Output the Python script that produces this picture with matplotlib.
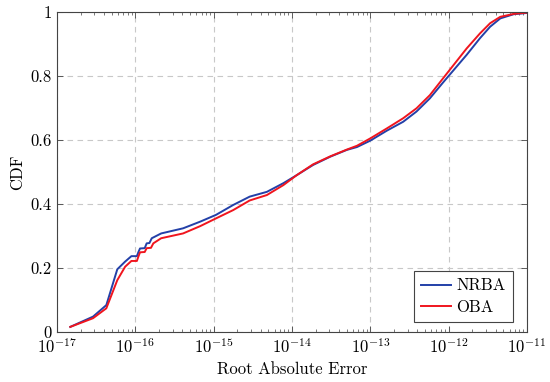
import matplotlib
matplotlib.use("Agg")
import matplotlib.pyplot as plt
from matplotlib.ticker import FixedLocator, FixedFormatter, LogLocator, NullFormatter

plt.rcParams["font.family"] = "cmr10"
plt.rcParams["mathtext.fontset"] = "cm"
plt.rcParams["axes.formatter.use_mathtext"] = True

# log10 of root absolute error vs CDF
nrba_logx = [-16.83, -16.54, -16.37, -16.23, -16.13, -16.05, -15.98, -15.96, -15.94,
             -15.88, -15.855, -15.82, -15.79, -15.67, -15.39, -15.17, -14.97, -14.75,
             -14.54, -14.32, -14.11, -13.94, -13.73, -13.51, -13.30, -13.17, -13.00,
             -12.79, -12.58, -12.41, -12.24, -12.07, -11.77, -11.60, -11.47,
             -11.34, -11.17, -11.00]
nrba_cdf = [0.016, 0.048, 0.084, 0.196, 0.220, 0.237, 0.237, 0.250, 0.261,
            0.262, 0.277, 0.278, 0.293, 0.308, 0.324, 0.345, 0.366, 0.397,
            0.423, 0.438, 0.465, 0.490, 0.522, 0.548, 0.569, 0.578, 0.598,
            0.629, 0.657, 0.689, 0.730, 0.780, 0.866, 0.918, 0.954,
            0.980, 0.993, 0.997]

oba_logx = [-16.83, -16.54, -16.37, -16.23, -16.13, -16.05, -15.98, -15.96, -15.94,
            -15.88, -15.855, -15.80, -15.77, -15.67, -15.39, -15.17, -14.97, -14.75,
            -14.54, -14.32, -14.11, -13.94, -13.73, -13.51, -13.30, -13.17, -13.00,
            -12.79, -12.58, -12.41, -12.24, -12.07, -11.77, -11.60, -11.47,
            -11.34, -11.17, -11.00]
oba_cdf = [0.016, 0.043, 0.074, 0.162, 0.204, 0.222, 0.222, 0.236, 0.249,
           0.250, 0.262, 0.263, 0.277, 0.293, 0.308, 0.331, 0.355, 0.381,
           0.411, 0.428, 0.459, 0.490, 0.524, 0.549, 0.570, 0.582, 0.605,
           0.636, 0.668, 0.699, 0.740, 0.793, 0.886, 0.933, 0.965,
           0.985, 0.994, 0.998]

y_ticks = [0, 0.2, 0.4, 0.6, 0.8, 1]
y_tick_labels = ["0", "0.2", "0.4", "0.6", "0.8", "1"]

fig = plt.figure(figsize=(5.5, 3.82), dpi=100)
ax = fig.add_axes([0.1036, 0.1309, 0.8545, 0.8377])

ax.plot([10 ** v for v in nrba_logx], nrba_cdf, color="#2340a8", lw=1.4, label="NRBA")
ax.plot([10 ** v for v in oba_logx], oba_cdf, color="#f0151e", lw=1.4, label="OBA")

ax.set_xscale("log")
ax.set_xlim(1e-17, 1e-11)
ax.set_ylim(0, 1)
ax.xaxis.set_major_locator(LogLocator(base=10, numticks=10))
ax.xaxis.set_minor_locator(LogLocator(base=10, subs=range(2, 10), numticks=100))
ax.xaxis.set_minor_formatter(NullFormatter())
ax.yaxis.set_major_locator(FixedLocator(y_ticks))
ax.yaxis.set_major_formatter(FixedFormatter(y_tick_labels))

ax.tick_params(which="both", direction="in", top=True, right=True,
               labelsize=12, color="#444444")
ax.tick_params(which="major", length=4, width=0.6)
ax.tick_params(which="minor", length=2.2, width=0.5)
ax.grid(True, which="major", linestyle=(0, (5, 4)), color="#c8c8c8", lw=0.8)
for s in ax.spines.values():
    s.set_color("#444444")
    s.set_linewidth(0.8)

ax.set_xlabel("Root Absolute Error", fontsize=12)
ax.set_ylabel("CDF", fontsize=12)

leg = ax.legend(loc="lower right", fontsize=12, fancybox=False, framealpha=1,
                edgecolor="#444444", handlelength=1.8, borderpad=0.45,
                labelspacing=0.35, handletextpad=0.3, borderaxespad=0,
                bbox_to_anchor=(0.97, 0.031))
leg.get_frame().set_linewidth(0.8)

fig.savefig("out.png", dpi=100)
